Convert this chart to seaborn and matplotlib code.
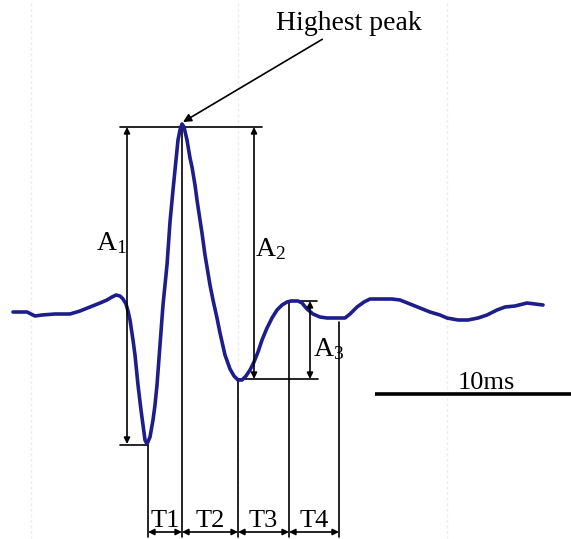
import matplotlib
matplotlib.use("Agg")
import matplotlib.pyplot as plt
import seaborn as sns
import pandas as pd

# waveform trace (horizontal position, vertical position in diagram units; y grows downward)
wave_x = [13, 27, 31, 35, 42, 55, 70, 80, 90, 100, 107, 112, 116, 120, 123, 126, 128, 130, 133,
          135, 138, 141, 143, 145, 147, 150, 153, 155, 157, 160, 163, 165, 167, 170, 173, 176,
          178, 180, 182, 184, 187, 190, 192, 195, 197, 200, 202, 205, 207, 210, 213, 217, 220,
          225, 230, 234, 238, 242, 246, 250, 254, 258, 262, 267, 272, 277, 282, 287, 291, 298,
          302, 307, 313, 320, 327, 345, 350, 357, 364, 370, 392, 400, 410, 420, 430, 440, 447,
          458, 468, 478, 487, 497, 505, 515, 527, 535, 543]
wave_y = [312, 312, 314, 316, 315, 314, 314, 311, 307, 303, 300, 297, 295, 296, 299, 304, 311, 320, 340,
          355, 385, 410, 425, 440, 444, 437, 420, 405, 385, 345, 305, 285, 265, 222, 190, 160,
          140, 130, 124, 127, 140, 158, 167, 185, 200, 220, 233, 255, 267, 285, 300, 318, 333,
          355, 369, 376, 380, 380, 376, 370, 362, 352, 340, 328, 318, 310, 305, 302, 301, 301,
          303, 309, 314, 317, 318, 318, 314, 307, 302, 299, 299, 300, 304, 308, 312, 315, 318,
          320, 320, 318, 315, 310, 307, 306, 303, 304, 305]

# key feature positions
peak_x, peak_y = 182, 126
trough1_x, trough1_y = 148, 445
trough2_x, trough2_y = 238, 379
peak3_x, peak3_y = 289, 301
t4_end_x, t4_end_y = 339, 322

t_edges = [148, 182, 238, 289, 339]
t_labels = ["T1", "T2", "T3", "T4"]
a_labels = ["A$_\\mathregular{1}$", "A$_\\mathregular{2}$", "A$_\\mathregular{3}$"]
scale_label = "10ms"
peak_label = "Highest peak"

sns.set_theme(style="white")
plt.rcParams["font.family"] = ["Liberation Serif", "DejaVu Serif"]
plt.rcParams["mathtext.fontset"] = "custom"
plt.rcParams["mathtext.rm"] = "Liberation Serif"
plt.rcParams["mathtext.it"] = "Liberation Serif:italic"
plt.rcParams["text.color"] = "black"

fig = plt.figure(figsize=(5.71, 5.39), dpi=100)
ax = fig.add_axes([0, 0, 1, 1])

# waveform
df = pd.DataFrame({"x": wave_x, "y": wave_y})
sns.lineplot(data=df, x="x", y="y", ax=ax, color="#1d1d8c", lw=2.6, sort=False,
             estimator=None, zorder=3)
ax.set_xlim(0, 571)
ax.set_ylim(539, 0)
ax.axis("off")

# faint vertical grid lines
for gx in [31, 238, 447]:
    ax.axvline(gx, color="#ececec", lw=1.0, ls=(0, (2, 2)), zorder=0)

k = dict(color="black", lw=1.2, zorder=2)
# horizontal reference lines
ax.plot([120, 262], [127, 127], **k)
ax.plot([120, trough1_x], [trough1_y, trough1_y], **k)
ax.plot([trough2_x, 318], [trough2_y, trough2_y], **k)
ax.plot([peak3_x, 317], [peak3_y, peak3_y], **k)

# vertical drop lines
ax.plot([trough1_x, trough1_x], [trough1_y, 537], **k)
ax.plot([peak_x, peak_x], [peak_y, 537], **k)
ax.plot([trough2_x, trough2_x], [trough2_y, 537], **k)
ax.plot([peak3_x, peak3_x], [peak3_y, 537], **k)
ax.plot([t4_end_x, t4_end_x], [t4_end_y, 537], **k)

ap = dict(arrowstyle="<|-|>", color="black", lw=1.2, mutation_scale=9, shrinkA=0, shrinkB=0)
# amplitude arrows
ax.annotate("", xy=(127, 127), xytext=(127, 444), arrowprops=ap)
ax.annotate("", xy=(254, 127), xytext=(254, 379), arrowprops=ap)
ax.annotate("", xy=(310, 301), xytext=(310, 379), arrowprops=ap)

# time arrows
for i in range(4):
    ax.annotate("", xy=(t_edges[i], 532), xytext=(t_edges[i + 1], 532), arrowprops=ap)
    ax.text((t_edges[i] + t_edges[i + 1]) / 2, 527, t_labels[i], ha="center", va="baseline",
            fontsize=19, color="black")

# amplitude labels
ax.text(96, 250, a_labels[0], fontsize=20, ha="left", va="baseline", color="black")
ax.text(255, 256, a_labels[1], fontsize=20, ha="left", va="baseline", color="black")
ax.text(313, 356, a_labels[2], fontsize=20, ha="left", va="baseline", color="black")

# highest peak annotation
ax.annotate(peak_label, xy=(peak_x + 1, 122), xytext=(276, 30),
            fontsize=20, ha="left", va="baseline", color="black",
            arrowprops=dict(arrowstyle="-|>", color="black", lw=1.2, mutation_scale=12,
                            shrinkA=0, shrinkB=0))

# scale bar
ax.plot([375, 571], [394, 394], color="black", lw=2.6, solid_capstyle="butt")
ax.text(486, 389, scale_label, fontsize=19, ha="center", va="baseline", color="black")

fig.savefig("out.png", dpi=100)
